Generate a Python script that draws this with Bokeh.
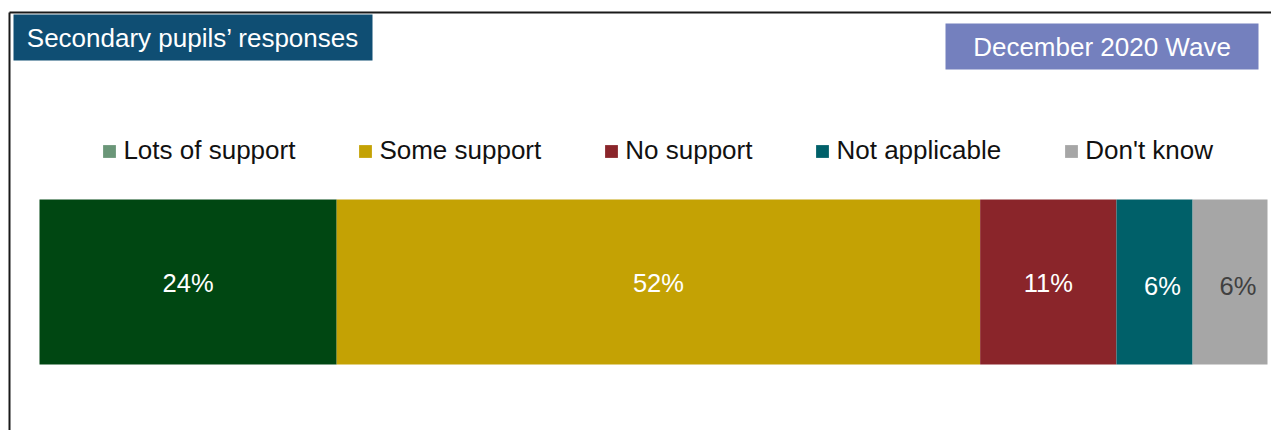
from bokeh.plotting import figure
from bokeh.models import Range1d, ColumnDataSource, Legend, LegendItem
from bokeh.core.properties import value
from bokeh.embed import file_html
from bokeh.resources import INLINE

# ---- data ----
categories = ["Lots of support", "Some support", "No support", "Not applicable", "Don't know"]
values = [24.2, 52.4, 11.1, 6.2, 6.1]
bar_colors = ["#004712", "#c4a204", "#8a252a", "#006069", "#a6a6a6"]
legend_colors = ["#6a9678", "#c4a204", "#8a252a", "#006069", "#a6a6a6"]
label_colors = ["#ffffff", "#ffffff", "#ffffff", "#ffffff", "#404040"]
title_left = "Secondary pupils\u2019 responses"
title_right = "December 2020 Wave"

W, H = 1271, 430
FONT = "Liberation Sans"

total = sum(values)
bar_px_left, bar_px_width = 39, 1228
scale = bar_px_width / total
x0 = -bar_px_left / scale


def px(xp):
    return x0 + xp / scale


p = figure(width=W, height=H, output_backend="svg", toolbar_location=None,
           x_range=Range1d(x0, x0 + W / scale), y_range=Range1d(H, 0),
           min_border=0, min_border_left=0, min_border_right=0,
           min_border_top=0, min_border_bottom=0)
p.axis.visible = False
p.grid.visible = False
p.outline_line_color = None
p.background_fill_color = "white"
p.border_fill_color = "white"

# border lines
p.segment(x0=[px(9), px(9)], y0=[12, 12], x1=[px(W + 5), px(9)], y1=[12, H + 5],
          line_color="#1a1a1a", line_width=2)

# header boxes
p.quad(left=[px(13)], right=[px(372)], top=[14], bottom=[60], fill_color="#0f4e73", line_color=None)
p.text(x=[px(192.5)], y=[37.5], text=[title_left], text_color="white",
       text_font=value(FONT), text_font_size="26px", text_align="center", text_baseline="middle")
p.quad(left=[px(945)], right=[px(1258)], top=[23], bottom=[69], fill_color="#7480be", line_color=None)
p.text(x=[px(1101.5)], y=[46.5], text=[title_right], text_color="white",
       text_font=value(FONT), text_font_size="26px", text_align="center", text_baseline="middle")

# stacked bar
lefts, rights = [], []
acc = 0
for v in values:
    lefts.append(acc)
    acc += v
    rights.append(acc)
src = ColumnDataSource(dict(cat=categories, left=lefts, right=rights, color=bar_colors,
                            mid=[(a + b) / 2 for a, b in zip(lefts, rights)],
                            label=[f"{round(v)}%" for v in values], lcolor=label_colors,
                            xoff=[8 if v < 10 else 0 for v in values],
                            yoff=[4 if v < 10 else 1 for v in values]))
p.hbar(y=281.5, left="left", right="right", height=165, fill_color="color", line_color=None, source=src)
p.text(x="mid", y=281.5, text="label", text_color="lcolor", x_offset="xoff", y_offset="yoff",
       text_font=value(FONT), text_font_size="25.5px", text_align="center", text_baseline="middle",
       source=src)

# legend (swatches come from proxy renderers placed outside the visible x range,
# so the swatch colours can differ from the bar colours)
items = []
far = total * 10
for cat, col in zip(categories, legend_colors):
    r = p.hbar(y=[281.5], left=[far], right=[far + 1], height=1, fill_color=col, line_color=None)
    items.append(LegendItem(label=cat, renderers=[r]))
legend = Legend(items=items, orientation="horizontal", location=(101.4, H - 166),
                spacing=62, padding=0, margin=0, glyph_width=16, glyph_height=16,
                label_standoff=6, label_height=26, label_text_font=FONT,
                label_text_font_size="26px", label_text_color="#111111",
                background_fill_alpha=0, border_line_alpha=0)
p.add_layout(legend, "center")

open("out.html", "w").write(file_html(p, INLINE))
